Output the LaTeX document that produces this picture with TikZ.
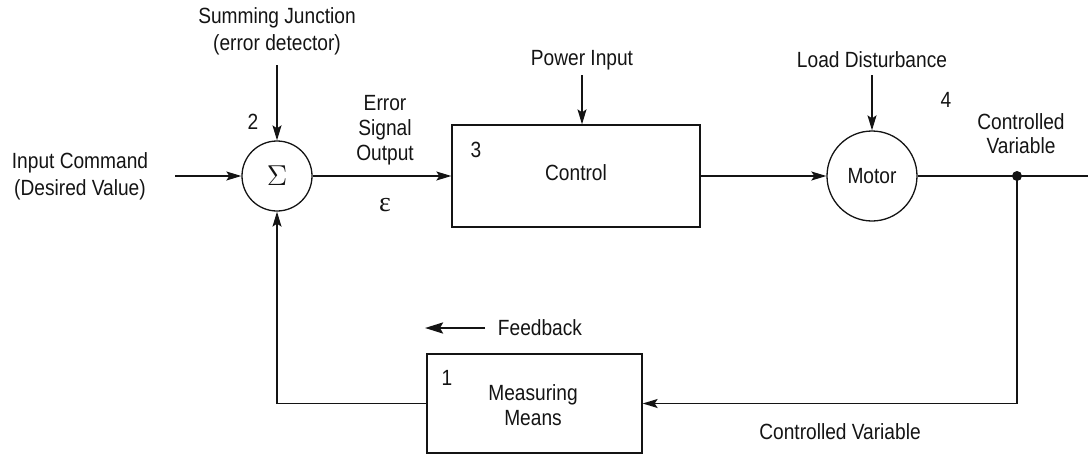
\documentclass[tikz,border=0pt]{standalone}
\usepackage{fontspec}
\setmainfont{Liberation Sans}[FakeStretch=0.87]
\newfontfamily\greekfont{Liberation Serif}
\usepackage{tikz}
\usetikzlibrary{positioning,arrows.meta,calc}
\definecolor{lpInk}{RGB}{20,20,20}
\tikzset{
    base/.style={font=\fontsize{11}{13.5}\selectfont, align=center, text=lpInk},
    block/.style={base, rectangle, draw=lpInk, line width=0.65pt, fill=white},
    junction/.style={base, circle, draw=lpInk, line width=0.65pt, fill=white, inner sep=0pt},
    flow/.style={-{Stealth[length=7.5pt,width=4.5pt,inset=1.5pt]}, line width=0.65pt, color=lpInk},
    wire/.style={line width=0.65pt, color=lpInk},
    label/.style={base, inner sep=1pt},
    tag/.style={base, inner sep=0pt}
}
\begin{document}
\begin{tikzpicture}[x=0.5pt,y=-0.5pt]
  \useasboundingbox (0,0) rectangle (1092,455);

  % main loop
  \node[junction, minimum size=35pt] (sum) at (277,176) {\fontsize{14}{14}\selectfont$\Sigma$};
  \node[block, minimum width=124pt, minimum height=51pt] (ctrl) at (576,176) {};
  \node[base] (ctrltext) at (576,173) {Control};
  \node[junction, minimum size=45pt] (motor) at (872,176) {Motor};
  \node[block, minimum width=107.5pt, minimum height=49.5pt] (meas) at (534.5,403.5) {};
  \node[base, font=\fontsize{11}{12.5}\selectfont] (meastext) at (533,405) {Measuring\\Means};

  \coordinate (in) at (175,176);
  \coordinate (tap) at (1017,176);
  \coordinate (out) at (1088,176);

  % texts
  \node[label] (cmd) at (80,176) {Input Command\\(Desired Value)};
  \node[label] (sj) at (277,31) {Summing Junction\\(error detector)};
  \node[label, font=\fontsize{11}{12.5}\selectfont] (err) at (385,130) {Error\\Signal\\Output};
  \node[label] (eps) at (385,205) {\greekfont\fontsize{14}{14}\selectfont ε};
  \node[label] (pwr) at (582,60) {Power Input};
  \node[label] (load) at (872,60) {Load Disturbance};
  \node[label, font=\fontsize{11}{12}\selectfont] (cv) at (1021,134) {Controlled\\Variable};
  \node[label] (cvb) at (840,432) {Controlled Variable};
  \node[label] (fb) at (540,328) {Feedback};
  \coordinate (fbs) at (485,328);
  \coordinate (fbe) at (425,328);

  \node[tag] (n1) at (447,378) {1};
  \node[tag] (n2) at (253,122) {2};
  \node[tag] (n3) at (476,150) {3};
  \node[tag] (n4) at (946,100) {4};

  % connectors
  \draw[flow] (in) -- (sum);
  \draw[flow] (sum) -- (ctrl);
  \draw[flow] (ctrl) -- (motor);
  \draw[wire] (motor) -- (out);
  \fill[lpInk] (tap) circle (5);
  \draw[flow] (sj.south |- 0,65) -- (sum.north);
  \draw[flow] (pwr.south |- 0,75) -- (ctrl.north -| pwr.south);
  \draw[flow] (load.south |- 0,75) -- (motor.north);
  \draw[flow] (tap) |- (meas.east);
  \draw[flow] (meas.west) -| (sum.south);
  \draw[-{Stealth[length=9pt,width=5.5pt,inset=1.5pt]}, line width=1.3pt, lpInk] (fbs) -- (fbe);
\end{tikzpicture}
\end{document}
